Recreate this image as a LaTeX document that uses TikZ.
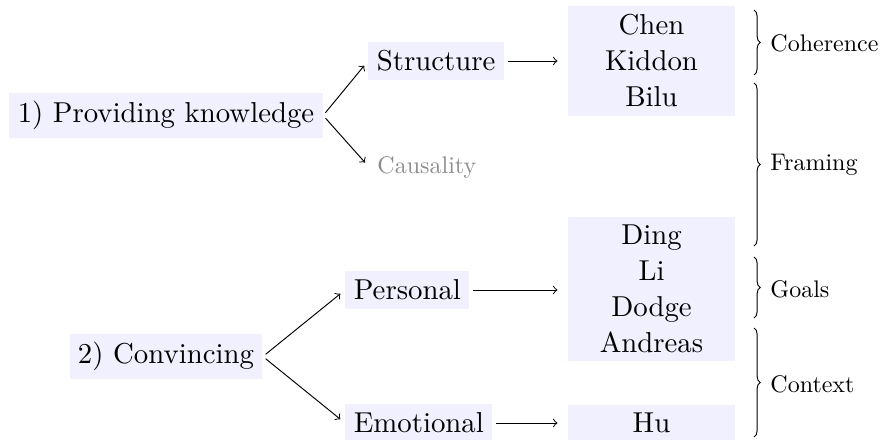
\documentclass[tikz,border=0pt]{standalone}
\usepackage{fontspec}
\newfontfamily\tenrm{lmroman10-regular.otf}
\usetikzlibrary{decorations.pathreplacing}
\begin{document}
\begin{tikzpicture}[x=0.4167pt,y=-0.4167pt,
  box/.style={fill=blue!6, inner sep=3.5pt, font=\tenrm\fontsize{12pt}{15pt}\selectfont},
  grp/.style={box, align=center, minimum width=69.6pt},
  lab/.style={anchor=west, inner sep=0pt, font=\tenrm},
  arr/.style={->, line width=0.4pt, shorten <=1.5pt, shorten >=2.5pt},
  harr/.style={arr, shorten >=4.2pt},
  br/.style={decorate, decoration={brace, amplitude=2.6pt}, line width=0.4pt}]
\useasboundingbox (0,0) rectangle (884,439);

% left column: the two aims
\node[box] (know) at (166,115.5) {1) Providing knowledge};
\node[box] (conv) at (166,356.5) {2) Convincing};

% middle column: kinds of content
\node[box, anchor=west] (struc) at (368,61) {Structure};
\node[anchor=west, text=black!45, font=\tenrm] (caus) at (369,167) {Causality};
\node[box, anchor=west] (pers) at (345,290) {Personal};
\node[box, anchor=west] (emot) at (345,423) {Emotional};

% right column: works
\node[grp] (g1) at (651.5,61) {Chen\\Kiddon\\Bilu};
\node[grp] (g2) at (651.5,289) {Ding\\Li\\Dodge\\Andreas};
\node[grp] (g3) at (651.5,423) {Hu};

% connectors
\draw[arr] (know.east) -- (struc.west);
\draw[arr] (know.east) -- (caus.west);
\draw[arr] (conv.east) -- (pers.west);
\draw[arr] (conv.east) -- (emot.west);
\draw[harr] (struc.east) -- (struc.east -| g1.west);
\draw[harr] (pers.east) -- (pers.east -| g2.west);
\draw[harr] (emot.east) -- (emot.east -| g3.west);

% braces with their labels
\coordinate (b1t) at (754,10);   \coordinate (b1b) at (754,75);
\coordinate (b2t) at (754,83);   \coordinate (b2b) at (754,246);
\coordinate (b3t) at (754,257);  \coordinate (b3b) at (754,318);
\coordinate (b4t) at (754,328);  \coordinate (b4b) at (754,437);
\draw[br] (b1t) -- (b1b);
\draw[br] (b2t) -- (b2b);
\draw[br] (b3t) -- (b3b);
\draw[br] (b4t) -- (b4b);
\node[lab] (coh) at (770,43) {Coherence};
\node[lab] (fra) at (770,165) {Framing};
\node[lab] (goa) at (770,289) {Goals};
\node[lab] (con) at (770,384) {Context};
\end{tikzpicture}
\end{document}
